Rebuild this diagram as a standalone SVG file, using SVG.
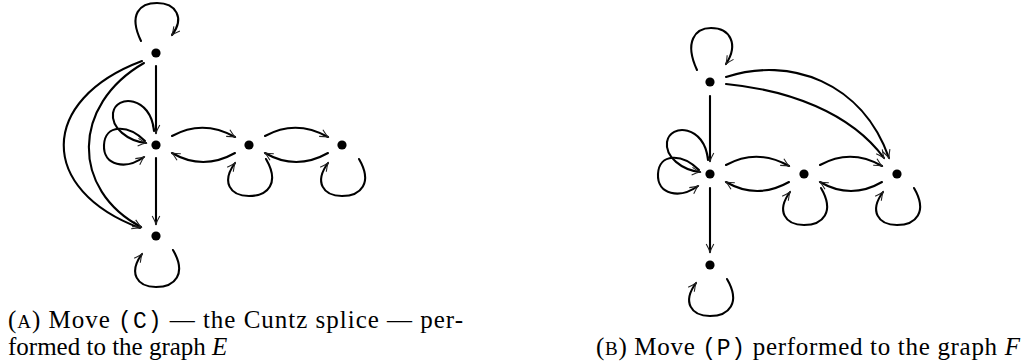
<svg xmlns="http://www.w3.org/2000/svg" width="1024" height="364" viewBox="0 0 1024 364">
<style>
.e{fill:none;stroke:#000;stroke-width:2.1;stroke-linecap:round}
.a{marker-end:url(#ah)}
.n{fill:#000}
.cap{font-family:"Liberation Serif","Times New Roman",serif;font-size:25px;fill:#000}
.tt{font-family:"Liberation Mono","Courier New",monospace;font-size:23px}
.sc{font-size:19px}
.it{font-style:italic}
</style>
<defs>
<marker id="ah" viewBox="-10 -6 12 12" refX="0" refY="0" markerWidth="12" markerHeight="12" orient="auto" markerUnits="userSpaceOnUse">
<path d="M -8,-3.8 Q -3,-1 0,0 Q -3,1 -8,3.8" fill="none" stroke="#222" stroke-width="1.1"/>
</marker>
</defs>
<rect width="1024" height="364" fill="#fff"/>
<g id="connectors">
<!-- graph E (left) -->
<path class="e a" d="M 141,41 C 128,14 140,3 157,3 C 176,3 185,18 172,35"/>
<path class="e a" d="M 156,66 L 156,133"/>
<path class="e a" d="M 156,158 L 156,224"/>
<path class="e a" d="M 142,61 C 38,100 38,190 140,228"/>
<path class="e a" d="M 144,63 C 71,105 71,190 141,227"/>
<path class="e a" d="M 154,131 C 151,96 116,94 113,113 C 111,128 128,141 146,143"/>
<path class="e a" d="M 145,141 C 128,124 105,124 104,145 C 103,166 126,170 144,157"/>
<path class="e a" d="M 172,136 Q 203,119 235,137"/>
<path class="e a" d="M 235,153 Q 203,171 172,153"/>
<path class="e a" d="M 265,136 Q 296,119 328,137"/>
<path class="e a" d="M 328,153 Q 296,171 265,153"/>
<path class="e a" d="M 266,159 C 280,183 268,196 249,196 C 230,196 221,182 235,163"/>
<path class="e a" d="M 359,159 C 373,183 361,196 342,196 C 323,196 314,182 328,163"/>
<path class="e a" d="M 173,250 C 187,274 175,287 156,287 C 137,287 128,273 142,254"/>
<!-- graph F (right) -->
<path class="e a" d="M 697,70 C 684,42 695,28 711,28 C 730,28 739,44 726,64"/>
<path class="e a" d="M 710,96 L 710,161"/>
<path class="e a" d="M 710,188 L 710,252"/>
<path class="e a" d="M 726,77 C 790,56 862,82 889,158"/>
<path class="e a" d="M 726,84 C 788,90 850,112 884,158"/>
<path class="e a" d="M 708,160 C 705,125 670,123 667,142 C 665,157 682,170 700,172"/>
<path class="e a" d="M 699,170 C 682,153 659,153 658,174 C 657,195 680,199 698,186"/>
<path class="e a" d="M 726,165 Q 757,148 789,166"/>
<path class="e a" d="M 789,182 Q 757,200 726,182"/>
<path class="e a" d="M 820,165 Q 851,148 882,166"/>
<path class="e a" d="M 882,182 Q 851,200 820,182"/>
<path class="e a" d="M 821,188 C 835,212 823,225 804,225 C 785,225 776,211 790,192"/>
<path class="e a" d="M 914,188 C 928,212 916,225 897,225 C 878,225 869,211 883,192"/>
<path class="e a" d="M 727,279 C 741,303 729,316 710,316 C 691,316 682,302 696,283"/>
</g>
<g id="E-top"><circle class="n" cx="156" cy="53" r="4.6"/></g>
<g id="E-mid"><circle class="n" cx="156" cy="145" r="4.6"/></g>
<g id="E-r1"><circle class="n" cx="249" cy="145" r="4.6"/></g>
<g id="E-r2"><circle class="n" cx="342" cy="145" r="4.6"/></g>
<g id="E-bot"><circle class="n" cx="156" cy="236" r="4.6"/></g>
<g id="F-top"><circle class="n" cx="710" cy="82" r="4.6"/></g>
<g id="F-mid"><circle class="n" cx="710" cy="174" r="4.6"/></g>
<g id="F-r1"><circle class="n" cx="804" cy="174" r="4.6"/></g>
<g id="F-r2"><circle class="n" cx="897" cy="174" r="4.6"/></g>
<g id="F-bot"><circle class="n" cx="710" cy="265" r="4.6"/></g>
<g id="captions">
<text class="cap" x="8" y="328" textLength="455" lengthAdjust="spacing">(<tspan class="sc">A</tspan>) Move <tspan class="tt">(C)</tspan> — the Cuntz splice — per-</text>
<text class="cap" x="8" y="355">formed to the graph <tspan class="it">E</tspan></text>
<text class="cap" x="596" y="355" textLength="424" lengthAdjust="spacing">(<tspan class="sc">B</tspan>) Move <tspan class="tt">(P)</tspan> performed to the graph <tspan class="it">F</tspan></text>
</g>
</svg>
